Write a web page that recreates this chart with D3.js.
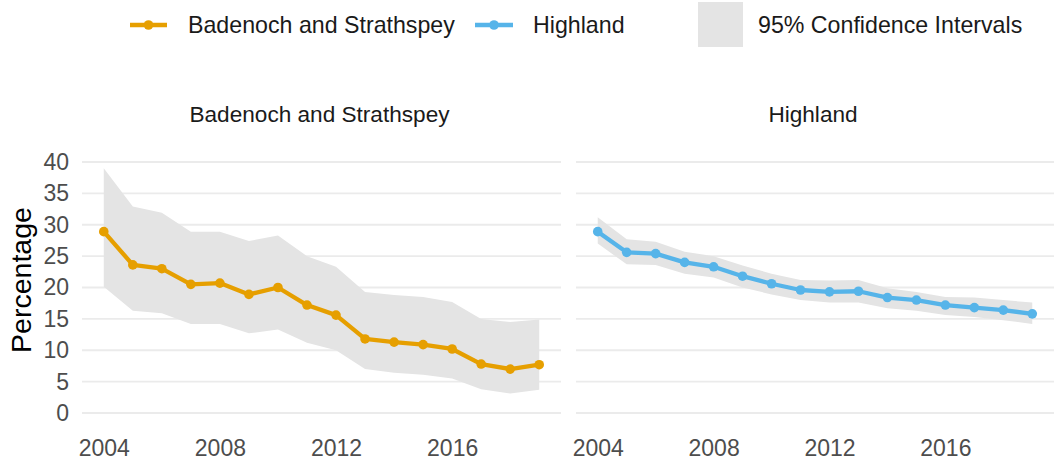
<!DOCTYPE html>
<html>
<head>
<meta charset="utf-8">
<script src="https://cdn.jsdelivr.net/npm/d3@7"></script>
<style>
  html, body { margin: 0; padding: 0; background: #fff; }
  svg { display: block; font-family: "Liberation Sans", Arial, sans-serif; }
</style>
</head>
<body>
<svg id="chart" width="1055" height="464"></svg>
<script>
const years = [2004,2005,2006,2007,2008,2009,2010,2011,2012,2013,2014,2015,2016,2017,2018,2019];
const areaNames = ["Badenoch and Strathspey", "Highland"];
const bsValues = [28.9,23.6,23.0,20.5,20.7,18.9,20.0,17.2,15.6,11.8,11.3,10.9,10.2,7.8,7.0,7.7];
const bsLower  = [20.1,16.3,15.9,14.2,14.2,12.7,13.3,11.2,10.0,7.0,6.4,6.1,5.5,3.8,3.1,3.7];
const bsUpper  = [39.0,32.9,31.9,28.9,28.9,27.4,28.3,25.0,23.3,19.3,18.8,18.5,17.7,15.0,14.5,14.9];
const hlValues = [28.9,25.6,25.4,24.0,23.3,21.8,20.6,19.6,19.3,19.4,18.4,18.0,17.2,16.8,16.4,15.8];
const hlLower  = [27.0,23.7,23.6,22.2,21.6,20.0,18.9,18.0,17.6,17.6,16.7,16.3,15.6,15.3,14.8,14.2];
const hlUpper  = [31.2,27.7,27.3,25.7,25.0,23.5,22.2,21.2,21.1,21.2,19.9,19.3,18.5,18.4,18.0,17.6];
const yTicks = [0,5,10,15,20,25,30,35,40];
const xTicks = [2004,2008,2012,2016];
const colors = ["#E69F00", "#56B4E9"];
const ciLabel = "95% Confidence Intervals";
const yTitle = "Percentage";

const panels = [
  {name: areaNames[0], values: bsValues, lower: bsLower, upper: bsUpper, color: colors[0], x0: 82, x1: 561},
  {name: areaNames[1], values: hlValues, lower: hlLower, upper: hlUpper, color: colors[1], x0: 576, x1: 1054}
];

const svg = d3.select("#chart");
const y = d3.scaleLinear().domain([0, 40]).range([413, 162]);
const bandFill = "#e4e4e4";

panels.forEach((p, pi) => {
  const x = d3.scaleLinear().domain([2003.25, 2019.75]).range([p.x0, p.x1]);
  const g = svg.append("g");

  g.selectAll("line.grid").data(yTicks).enter().append("line")
    .attr("x1", p.x0).attr("x2", p.x1)
    .attr("y1", d => y(d)).attr("y2", d => y(d))
    .attr("stroke", "#ebebeb").attr("stroke-width", 1.8);

  const rows = years.map((yr, i) => ({yr, v: p.values[i], lo: p.lower[i], hi: p.upper[i]}));

  g.append("path").datum(rows)
    .attr("d", d3.area().x(d => x(d.yr)).y0(d => y(d.lo)).y1(d => y(d.hi)))
    .attr("fill", bandFill);

  g.append("path").datum(rows)
    .attr("d", d3.line().x(d => x(d.yr)).y(d => y(d.v)))
    .attr("fill", "none").attr("stroke", p.color).attr("stroke-width", 4.3)
    .attr("stroke-linejoin", "round");

  g.selectAll("circle").data(rows).enter().append("circle")
    .attr("cx", d => x(d.yr)).attr("cy", d => y(d.v)).attr("r", 4.8)
    .attr("fill", p.color);

  const xAxis = d3.axisBottom(x).tickValues(xTicks).tickFormat(d3.format("d")).tickSize(0).tickPadding(0);
  const xa = g.append("g").attr("transform", "translate(0,440)").call(xAxis);
  xa.select(".domain").remove();
  xa.selectAll("text").attr("font-size", 23).attr("fill", "#4d4d4d")
    .attr("font-family", "Liberation Sans, Arial, sans-serif").attr("dy", "0.71em");

  g.append("text").attr("x", (p.x0 + p.x1) / 2 - 2).attr("y", 122)
    .attr("text-anchor", "middle").attr("font-size", 22.6).attr("fill", "#1a1a1a")
    .text(p.name);

  if (pi === 0) {
    const yAxis = d3.axisLeft(y).tickValues(yTicks).tickSize(0).tickPadding(0);
    const ya = g.append("g").attr("transform", "translate(69,0)").call(yAxis);
    ya.select(".domain").remove();
    ya.selectAll("text").attr("font-size", 23).attr("fill", "#4d4d4d")
      .attr("font-family", "Liberation Sans, Arial, sans-serif");
  }
});

svg.append("text").attr("transform", "translate(31,280) rotate(-90)")
  .attr("text-anchor", "middle").attr("font-size", 28.5).attr("fill", "#000")
  .text(yTitle);

const leg = svg.append("g");
const legItems = [
  {name: areaNames[0], color: colors[0], lx0: 130, lx1: 167, tx: 188},
  {name: areaNames[1], color: colors[1], lx0: 475, lx1: 513, tx: 533}
];
legItems.forEach(it => {
  leg.append("line").attr("x1", it.lx0).attr("x2", it.lx1).attr("y1", 25).attr("y2", 25)
    .attr("stroke", it.color).attr("stroke-width", 4.3);
  leg.append("circle").attr("cx", (it.lx0 + it.lx1) / 2).attr("cy", 25).attr("r", 4.8).attr("fill", it.color);
  leg.append("text").attr("x", it.tx).attr("y", 33).attr("font-size", 23.2).attr("fill", "#1a1a1a").text(it.name);
});
leg.append("rect").attr("x", 698).attr("y", 2).attr("width", 45).attr("height", 45).attr("fill", bandFill);
leg.append("text").attr("x", 758).attr("y", 33).attr("font-size", 23.2).attr("fill", "#1a1a1a").text(ciLabel);
</script>
</body>
</html>
